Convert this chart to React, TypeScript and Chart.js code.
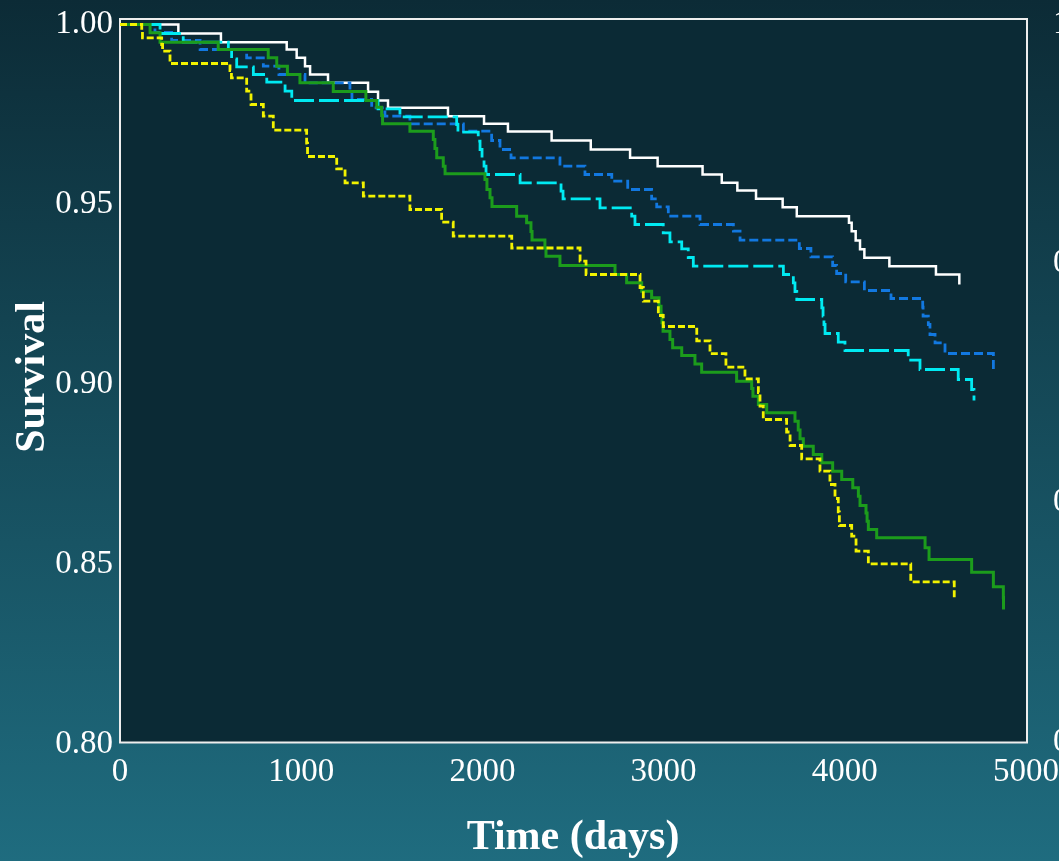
import React, { useEffect, useRef } from 'react';
import { Chart, registerables } from 'chart.js';

Chart.register(...registerables);

const W = 1059;
const H = 861;

// Axis ticks
const xTickValues = [0, 1000, 2000, 3000, 4000, 5000];
const yTickValues = [0.8, 0.85, 0.9, 0.95, 1.0];
const neighbourLabels = ['1.0', '0.9', '0.8', '0.7'];

// Kaplan–Meier curves: event times (days) and survival after each event
const whiteTime = [322, 557, 920, 975, 1021, 1049, 1148, 1369, 1424, 1479, 1810, 2009, 2141, 2382, 2598, 2815, 2967, 3215, 3321, 3407, 3510, 3657, 3735, 4023, 4038, 4060, 4084, 4108, 4246, 4503, 4632];
const whiteSurv = [0.9975, 0.99508, 0.99306, 0.99075, 0.98842, 0.98611, 0.98381, 0.98131, 0.97889, 0.97686, 0.97453, 0.97242, 0.97028, 0.96778, 0.96528, 0.96297, 0.96064, 0.95833, 0.95603, 0.95389, 0.95158, 0.94925, 0.94675, 0.94492, 0.94258, 0.94, 0.93758, 0.93519, 0.93286, 0.93056, 0.92778];

const blueTime = [193, 285, 442, 699, 791, 877, 1021, 1269, 1280, 1389, 1462, 1600, 1895, 2051, 2097, 2158, 2428, 2566, 2714, 2802, 2934, 2962, 3026, 3201, 3385, 3422, 3749, 3813, 3933, 3955, 4005, 4108, 4255, 4430, 4432, 4461, 4470, 4498, 4553, 4820];
const blueSurv = [0.99778, 0.99556, 0.99306, 0.99075, 0.98842, 0.98611, 0.98381, 0.98147, 0.97917, 0.97686, 0.97453, 0.97242, 0.97036, 0.96778, 0.96528, 0.96297, 0.96064, 0.95833, 0.95647, 0.95417, 0.95158, 0.94936, 0.94675, 0.94444, 0.94258, 0.94008, 0.93778, 0.93547, 0.93306, 0.93083, 0.92853, 0.92611, 0.92389, 0.92147, 0.91897, 0.91667, 0.91389, 0.91158, 0.90861, 0.90417];

const cyanTime = [221, 349, 598, 616, 644, 736, 810, 911, 948, 1424, 1545, 1858, 1865, 1977, 1987, 1998, 2009, 2020, 2208, 2434, 2445, 2649, 2824, 2842, 2998, 3035, 3100, 3136, 3164, 3661, 3716, 3725, 3735, 3873, 3880, 3885, 3891, 3964, 4001, 4350, 4415, 4626, 4700, 4713];
const cyanSurv = [0.9975, 0.99508, 0.99306, 0.99047, 0.98825, 0.98611, 0.98397, 0.98147, 0.97889, 0.97658, 0.97436, 0.97222, 0.97008, 0.96758, 0.96528, 0.96297, 0.96064, 0.95833, 0.95603, 0.95369, 0.95158, 0.94908, 0.94675, 0.94444, 0.94214, 0.93964, 0.93769, 0.93528, 0.93286, 0.93056, 0.92825, 0.92583, 0.92361, 0.92131, 0.91897, 0.91667, 0.91417, 0.91175, 0.90944, 0.90675, 0.90417, 0.90139, 0.89861, 0.89556];

const greenTime = [166, 221, 542, 818, 865, 924, 993, 1177, 1357, 1417, 1444, 1449, 1600, 1729, 1738, 1748, 1784, 1794, 2014, 2025, 2042, 2053, 2189, 2244, 2268, 2274, 2345, 2351, 2428, 2732, 2796, 2879, 2934, 2975, 2986, 2991, 2997, 3035, 3050, 3100, 3173, 3210, 3403, 3486, 3493, 3523, 3569, 3725, 3743, 3753, 3771, 3826, 3873, 3933, 3983, 4044, 4075, 4084, 4117, 4123, 4130, 4176, 4443, 4465, 4700, 4820, 4875, 4876];
const greenSurv = [0.99769, 0.99508, 0.99306, 0.99075, 0.98842, 0.98611, 0.98381, 0.98139, 0.97889, 0.97703, 0.97472, 0.97242, 0.97036, 0.96806, 0.96556, 0.96297, 0.96064, 0.95853, 0.95694, 0.95417, 0.95186, 0.94944, 0.94675, 0.94492, 0.9425, 0.94014, 0.93792, 0.93564, 0.93306, 0.93056, 0.92825, 0.92592, 0.92408, 0.92175, 0.91944, 0.91714, 0.91481, 0.9125, 0.91019, 0.90806, 0.90569, 0.90342, 0.90092, 0.89889, 0.89675, 0.89444, 0.89214, 0.88981, 0.88736, 0.88492, 0.88286, 0.88056, 0.87825, 0.87592, 0.87361, 0.87131, 0.86897, 0.86639, 0.86431, 0.86203, 0.85972, 0.85742, 0.85464, 0.85139, 0.84786, 0.84381, 0.84083, 0.8375];

const yellowTime = [120, 124, 230, 235, 276, 607, 615, 699, 723, 791, 846, 1030, 1035, 1196, 1242, 1343, 1600, 1775, 1839, 2162, 2539, 2572, 2870, 2888, 2971, 2998, 3183, 3256, 3344, 3449, 3523, 3532, 3550, 3679, 3698, 3762, 3863, 3918, 3946, 3964, 3970, 4038, 4062, 4130, 4364, 4604];
const yellowSurv = [0.99814, 0.99631, 0.99444, 0.99258, 0.98917, 0.98722, 0.98519, 0.98147, 0.97778, 0.97453, 0.97064, 0.96703, 0.96333, 0.95992, 0.95603, 0.95231, 0.94861, 0.94508, 0.94119, 0.93792, 0.93425, 0.93056, 0.92694, 0.92314, 0.91917, 0.91611, 0.91214, 0.90856, 0.90481, 0.90158, 0.89778, 0.89397, 0.89028, 0.88681, 0.88306, 0.87936, 0.87592, 0.87222, 0.86833, 0.86464, 0.86083, 0.85786, 0.85369, 0.85019, 0.84519, 0.84075];

const toPoints = (t: number[], s: number[]) => [{ x: 0, y: 1 }, ...t.map((v, i) => ({ x: v, y: s[i] }))];

const SERIF = '"Liberation Serif", "Times New Roman", serif';

const framePlugin = {
  id: 'frame',
  beforeDraw(chart: any) {
    const { ctx, chartArea, scales } = chart;
    ctx.save();
    const g = ctx.createLinearGradient(0, 0, 0, H);
    g.addColorStop(0, '#0c2b36');
    g.addColorStop(1, '#1f6c7f');
    ctx.fillStyle = g;
    ctx.fillRect(0, 0, W, H);
    const left = scales.x.getPixelForValue(0);
    const right = scales.x.getPixelForValue(5000) + 1;
    const top = chartArea.top;
    const bottom = scales.y.getPixelForValue(0.8) - 2;
    ctx.fillStyle = '#0b2a35';
    ctx.fillRect(left, top, right - left, bottom - top);
    ctx.strokeStyle = '#eeeeee';
    ctx.lineWidth = 2;
    ctx.strokeRect(left, top, right - left, bottom - top);
    ctx.restore();
  },
  afterDraw(chart: any) {
    const { ctx, scales } = chart;
    ctx.save();
    ctx.fillStyle = '#ffffff';
    ctx.font = `bold 42px ${SERIF}`;
    ctx.textAlign = 'center';
    ctx.textBaseline = 'middle';
    const cx = (scales.x.getPixelForValue(0) + scales.x.getPixelForValue(5000)) / 2;
    ctx.fillText('Time (days)', cx, 838);
    ctx.save();
    ctx.translate(33, 377);
    ctx.rotate(-Math.PI / 2);
    ctx.fillText('Survival', 0, 0);
    ctx.restore();
    ctx.font = `33px ${SERIF}`;
    ctx.textAlign = 'left';
    const ys = [24, 263, 502, 742];
    neighbourLabels.forEach((lab, i) => ctx.fillText(lab, 1053, ys[i]));
    ctx.restore();
  },
};

export default function App() {
  const ref = useRef<HTMLCanvasElement>(null);
  useEffect(() => {
    document.body.style.margin = '0';
    const canvas = ref.current;
    if (!canvas) return;
    const common = { stepped: true as const, pointRadius: 0, borderWidth: 2.8, fill: false };
    const chart = new Chart(canvas, {
      type: 'line',
      data: {
        datasets: [
          { ...common, label: 'yellow', data: toPoints(yellowTime, yellowSurv), borderColor: '#f2f200', borderDash: [7, 3] },
          { ...common, label: 'green', data: toPoints(greenTime, greenSurv), borderColor: '#1c9c1c', borderWidth: 3 },
          { ...common, label: 'cyan', data: toPoints(cyanTime, cyanSurv), borderColor: '#00eaf2', borderDash: [20, 5] },
          { ...common, label: 'blue', data: toPoints(blueTime, blueSurv), borderColor: '#1278e0', borderDash: [9, 4] },
          { ...common, label: 'white', data: toPoints(whiteTime, whiteSurv), borderColor: '#ffffff', borderWidth: 2.5 },
        ] as any,
      },
      options: {
        responsive: false,
        animation: false,
        devicePixelRatio: 1,
        layout: { padding: { top: 19, right: 33, bottom: 0, left: 0 } },
        plugins: { legend: { display: false }, tooltip: { enabled: false } },
        scales: {
          x: {
            type: 'linear',
            min: 0,
            max: 5000,
            grid: { display: false, drawTicks: false },
            border: { display: false },
            afterBuildTicks: (s: any) => { s.ticks = xTickValues.map((v) => ({ value: v })); },
            afterFit: (s: any) => { s.height = H - 744.5; s.paddingLeft = 0; s.paddingRight = 0; },
            ticks: {
              color: '#ffffff',
              font: { family: SERIF, size: 33, lineHeight: 1 },
              padding: 11,
              maxRotation: 0,
              autoSkip: false,
              callback: (v: any) => String(v),
            },
          },
          y: {
            type: 'linear',
            min: 0.8,
            max: 1.001528,
            grid: { display: false, drawTicks: false },
            border: { display: false },
            afterBuildTicks: (s: any) => { s.ticks = yTickValues.map((v) => ({ value: v })); },
            afterFit: (s: any) => { s.width = 120; s.paddingTop = 0; s.paddingBottom = 0; },
            ticks: {
              color: '#ffffff',
              font: { family: SERIF, size: 33, lineHeight: 1 },
              padding: 7,
              autoSkip: false,
              callback: (v: any) => Number(v).toFixed(2),
            },
          },
        },
      } as any,
      plugins: [framePlugin],
    });
    return () => chart.destroy();
  }, []);
  return (
    <div style={{ position: 'absolute', left: 0, top: 0, width: W, height: H }}>
      <canvas ref={ref} width={W} height={H} style={{ display: 'block' }} />
    </div>
  );
}
